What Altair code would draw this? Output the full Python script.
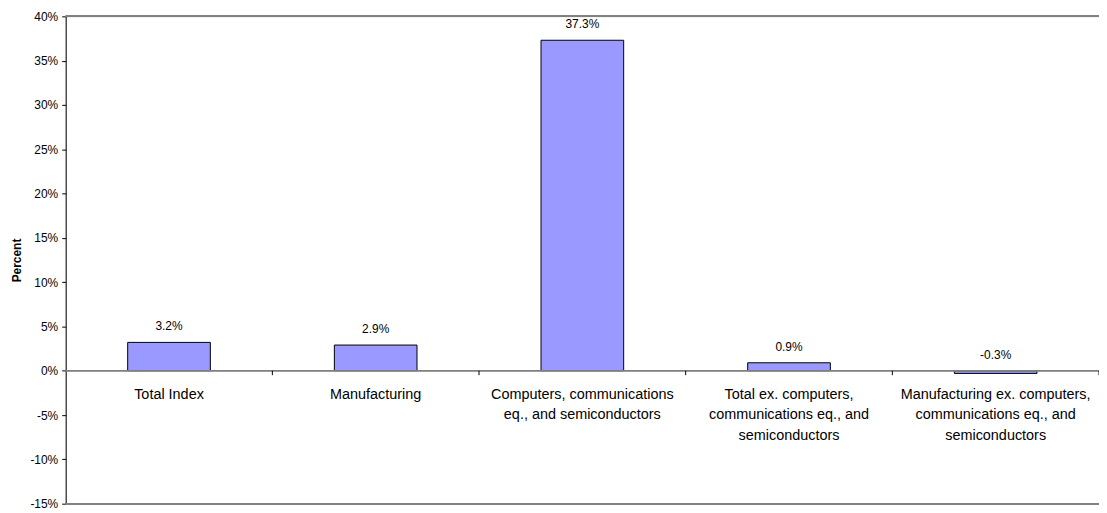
import altair as alt
import pandas as pd

categories = [
    "Total Index",
    "Manufacturing",
    "Computers, communications\neq., and semiconductors",
    "Total ex. computers,\ncommunications eq., and\nsemiconductors",
    "Manufacturing ex. computers,\ncommunications eq., and\nsemiconductors",
]
values = [3.2, 2.9, 37.3, 0.9, -0.3]
value_labels = ["3.2%", "2.9%", "37.3%", "0.9%", "-0.3%"]

df = pd.DataFrame({
    "cat": categories,
    "value": values,
    "label": value_labels,
    "labelpos": [max(v, 0) for v in values],
    "zero": [0] * len(values),
    "tickend": [-0.5] * len(values),
})

FONT = "Liberation Sans"
W, H = 1039, 490

x = alt.X("cat:N", sort=categories,
          scale=alt.Scale(paddingInner=0.6, paddingOuter=0.3),
          axis=None)
yscale = alt.Scale(domain=[-15, 40], nice=False, zero=False)

base = alt.Chart(df)

bars = base.mark_bar(color="#9999FF", stroke="#000000", strokeWidth=1).encode(
    x=x,
    y=alt.Y("value:Q", scale=yscale,
            axis=alt.Axis(values=list(range(-15, 41, 5)),
                          labelExpr="datum.value + '%'",
                          title="Percent", titleFont=FONT, titleFontSize=12,
                          titleFontWeight="bold", titleColor="#000",
                          titlePadding=6,
                          labelFont=FONT, labelFontSize=12, labelColor="#000",
                          domainColor="#000", tickColor="#000", tickSize=4,
                          labelPadding=4, grid=False)),
    y2=alt.Y2("zero:Q"),
)

zero_line = base.mark_rule(color="#808080", strokeWidth=1).encode(
    y=alt.Y("zero:Q", scale=yscale), x=alt.value(0), x2=alt.value(W))

ticks = base.mark_rule(color="#000000", strokeWidth=1, xOffset=W / 10).encode(
    x=x, y=alt.Y("zero:Q", scale=yscale), y2="tickend:Q")

frame_top = base.mark_rule(color="#808080", strokeWidth=1.5).encode(
    y=alt.value(0), x=alt.value(0), x2=alt.value(W))
frame_bottom = base.mark_rule(color="#808080", strokeWidth=1.5).encode(
    y=alt.value(H), x=alt.value(0), x2=alt.value(W))

val_text = base.mark_text(font=FONT, fontSize=12, color="#000",
                          baseline="bottom", dy=-9).encode(
    x=x, y=alt.Y("labelpos:Q", scale=yscale), text="label:N")

cat_text = base.mark_text(font=FONT, fontSize=14.5, color="#000",
                          baseline="top", dy=17, lineBreak="\n",
                          lineHeight=21).encode(
    x=x, y=alt.Y("zero:Q", scale=yscale), text="cat:N")

chart = alt.layer(bars, zero_line, ticks, frame_top, frame_bottom, val_text, cat_text).properties(
    width=W, height=H,
    autosize=alt.AutoSizeParams(type="none"),
    padding={"left": 58, "top": 7, "right": 0, "bottom": 7},
).configure_view(stroke=None).configure(background="white")

chart.save("out.html", embed_options={"renderer": "svg", "actions": False})
